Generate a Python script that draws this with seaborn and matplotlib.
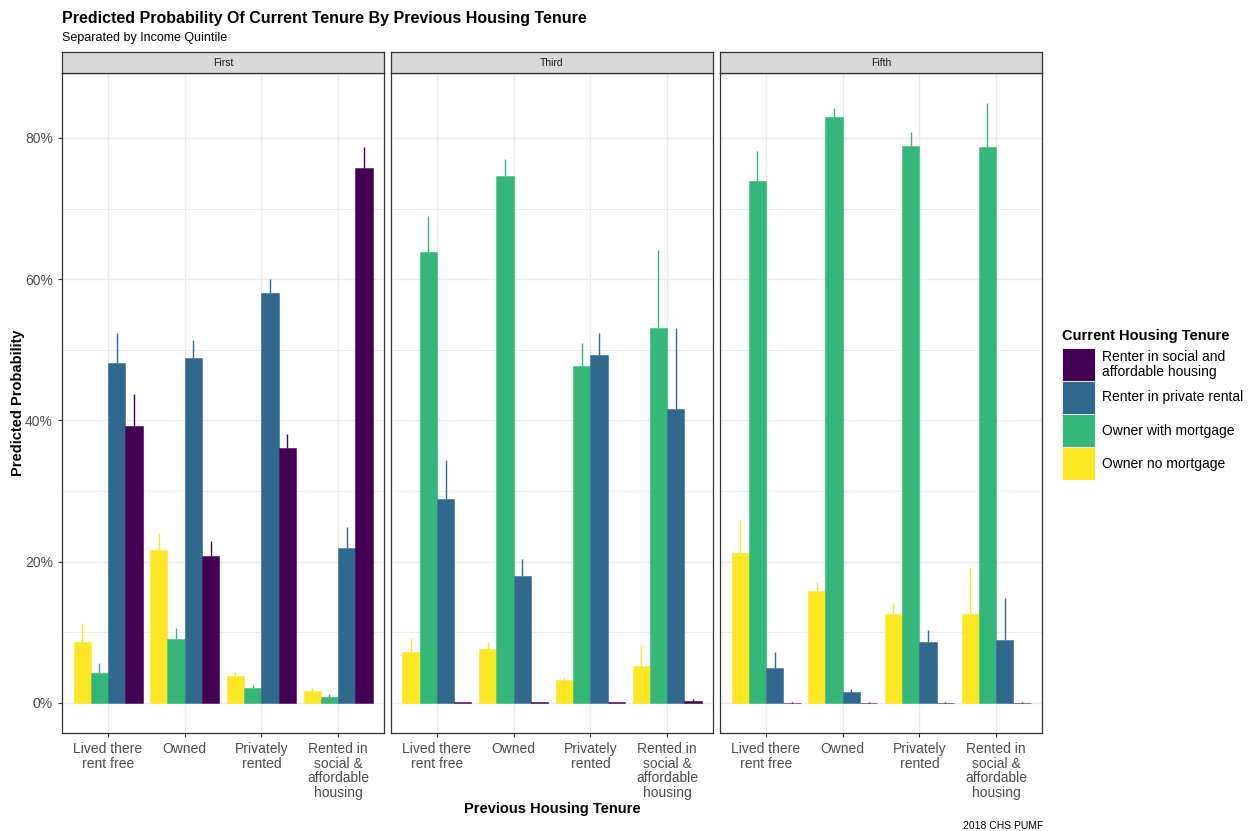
import matplotlib
matplotlib.use("Agg")
import matplotlib.pyplot as plt
from matplotlib.patches import Rectangle
from matplotlib.ticker import FixedLocator, FuncFormatter
from matplotlib.colors import to_rgba
import seaborn as sns
import pandas as pd

# ---------------- data ----------------
previous_tenure = ["Lived there\nrent free", "Owned", "Privately\nrented",
                   "Rented in\nsocial &\naffordable\nhousing"]
current_tenure = ["Owner no mortgage", "Owner with mortgage",
                  "Renter in private rental", "Renter in social and\naffordable housing"]
quintiles = ["First", "Third", "Fifth"]

# predicted probabilities (%) per quintile, per current tenure, per previous tenure
first_prob = {
    "Owner no mortgage": [8.7, 21.6, 3.8, 1.7],
    "Owner with mortgage": [4.2, 9.0, 2.1, 0.9],
    "Renter in private rental": [48.1, 48.8, 58.1, 21.9],
    "Renter in social and\naffordable housing": [39.2, 20.8, 36.1, 75.8],
}
first_upper = {
    "Owner no mortgage": [11.3, 24.0, 4.4, 2.1],
    "Owner with mortgage": [5.7, 10.6, 2.6, 1.3],
    "Renter in private rental": [52.4, 51.4, 60.1, 24.9],
    "Renter in social and\naffordable housing": [43.7, 22.9, 38.1, 78.7],
}
third_prob = {
    "Owner no mortgage": [7.2, 7.6, 3.2, 5.2],
    "Owner with mortgage": [63.9, 74.6, 47.7, 53.1],
    "Renter in private rental": [28.9, 18.0, 49.3, 41.6],
    "Renter in social and\naffordable housing": [0.15, 0.1, 0.1, 0.3],
}
third_upper = {
    "Owner no mortgage": [9.2, 8.6, 3.7, 8.2],
    "Owner with mortgage": [69.0, 77.0, 50.9, 64.1],
    "Renter in private rental": [34.4, 20.4, 52.4, 53.1],
    "Renter in social and\naffordable housing": [0.2, 0.15, 0.15, 0.6],
}
fifth_prob = {
    "Owner no mortgage": [21.2, 15.8, 12.6, 12.6],
    "Owner with mortgage": [73.9, 82.9, 78.9, 78.7],
    "Renter in private rental": [5.0, 1.6, 8.7, 8.9],
    "Renter in social and\naffordable housing": [0.05, 0.05, 0.05, 0.05],
}
fifth_upper = {
    "Owner no mortgage": [25.9, 17.1, 14.1, 19.3],
    "Owner with mortgage": [78.1, 84.2, 80.8, 84.9],
    "Renter in private rental": [7.2, 2.0, 10.3, 14.9],
    "Renter in social and\naffordable housing": [0.1, 0.1, 0.1, 0.1],
}

colors = ["#FDE725", "#35B779", "#31688E", "#440154"]
y_ticks = [0, 20, 40, 60, 80]

# ---------------- build table ----------------
rows = []
for q, probs, uppers in [("First", first_prob, first_upper),
                         ("Third", third_prob, third_upper),
                         ("Fifth", fifth_prob, fifth_upper)]:
    for cur in current_tenure:
        for i, prev in enumerate(previous_tenure):
            rows.append(dict(quintile=q, previous=prev, current=cur,
                             prob=probs[cur][i], upper=uppers[cur][i]))
df = pd.DataFrame(rows)

# ---------------- figure ----------------
W, H = 1249, 831
fig = plt.figure(figsize=(W / 100, H / 100), dpi=100)
plt.rcParams["font.family"] = ["Liberation Sans", "DejaVu Sans"]

panel_left = [62, 391, 720]
panel_w = 322
top_px, bot_px = 73, 733
strip_h = 21
grid_col = "#EBEBEB"
txt_gray = "#4D4D4D"

palette = dict(zip(current_tenure, colors))

for k, q in enumerate(quintiles):
    l = panel_left[k] / W
    b = 1 - bot_px / H
    ax = fig.add_axes([l, b, panel_w / W, (bot_px - top_px) / H])
    sub = df[df.quintile == q]
    sns.barplot(data=sub, x="previous", y="prob", hue="current",
                order=previous_tenure, hue_order=current_tenure,
                palette=palette, width=0.9, saturation=1, legend=False,
                linewidth=0.7, ax=ax, zorder=3, errorbar=None)
    for cur, cont in zip(current_tenure, ax.containers):
        ups = sub[sub.current == cur].set_index("previous").loc[previous_tenure, "upper"].values
        for bar, up in zip(cont, ups):
            bar.set_edgecolor(to_rgba(palette[cur], 0.55))
            xc = bar.get_x() + bar.get_width() / 2
            h = bar.get_height()
            if up > h:
                ax.vlines(xc, h, up, colors=palette[cur], lw=1.0, zorder=2)

    ax.set_xlim(-0.6, 3.6)
    ax.set_ylim(-4.25, 89.2)
    ax.set_facecolor("white")
    ax.yaxis.set_major_locator(FixedLocator(y_ticks))
    ax.yaxis.set_minor_locator(FixedLocator([10, 30, 50, 70]))
    ax.grid(True, which="major", color=grid_col, lw=1.0, zorder=0)
    ax.grid(True, which="minor", axis="y", color=grid_col, lw=0.6, zorder=0)
    ax.set_axisbelow(True)
    for s in ax.spines.values():
        s.set_color("#333333")
        s.set_linewidth(0.9)
    ax.tick_params(axis="both", which="major", length=3, color="#333333",
                   labelsize=10, labelcolor=txt_gray, width=0.8)
    ax.tick_params(axis="y", which="minor", length=0)
    ax.set_xticks(range(4))
    ax.set_xticklabels(previous_tenure, linespacing=1.05)
    ax.set_xlabel("")
    ax.set_ylabel("")
    if k == 0:
        ax.yaxis.set_major_formatter(FuncFormatter(lambda v, p: f"{int(v)}%"))
    else:
        ax.tick_params(axis="y", which="both", left=False, labelleft=False)

    # strip
    sax = fig.add_axes([l, 1 - top_px / H, panel_w / W, strip_h / H])
    sax.set_facecolor("#D9D9D9")
    sax.set_xticks([])
    sax.set_yticks([])
    for s in sax.spines.values():
        s.set_color("#333333")
        s.set_linewidth(0.9)
    sax.text(0.5, 0.5, q, ha="center", va="center", fontsize=7.5, color="#1A1A1A",
             transform=sax.transAxes)

# titles and labels
fig.text(62 / W, 1 - 18 / H, "Predicted Probability Of Current Tenure By Previous Housing Tenure",
         fontsize=11.5, fontweight="bold", ha="left", va="center")
fig.text(62 / W, 1 - 38 / H, "Separated by Income Quintile", fontsize=9,
         ha="left", va="center")
fig.text(552 / W, 1 - 809 / H, "Previous Housing Tenure", fontsize=10.5,
         fontweight="bold", ha="center", va="center")
fig.text(18 / W, 1 - 403 / H, "Predicted Probability", fontsize=10.5,
         fontweight="bold", ha="center", va="center", rotation=90)
fig.text(1043 / W, 1 - 826 / H, "2018 CHS PUMF", fontsize=7.5,
         ha="right", va="center")

# legend (drawn manually to match key sizes)
fig.text(1062 / W, 1 - 336 / H, "Current Housing Tenure", fontsize=10.5,
         fontweight="bold", ha="left", va="center")
key_top, key_h, key_w, key_x = 348, 33, 33, 1062
for i, cur in enumerate(current_tenure[::-1]):
    y0 = key_top + i * key_h
    fig.add_artist(Rectangle((key_x / W, 1 - (y0 + key_h) / H), key_w / W, key_h / H,
                             transform=fig.transFigure, facecolor=palette[cur],
                             edgecolor="white", lw=0.6))
    fig.text(1102 / W, 1 - (y0 + key_h / 2) / H, cur, fontsize=10, ha="left",
             va="center", linespacing=1.1)

fig.savefig("out.png", dpi=100, facecolor="white")
